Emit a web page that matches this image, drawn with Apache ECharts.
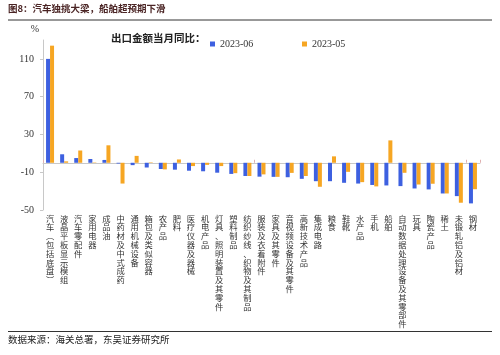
<!DOCTYPE html>
<html>
<head>
<meta charset="utf-8">
<script src="https://cdn.jsdelivr.net/npm/echarts@6/dist/echarts.min.js"></script>
<style>html,body{margin:0;padding:0;background:#fff;}#c{width:500px;height:355px;}</style>
</head>
<body>
<div id="c"></div>
<script>
const categories = ['汽车(包括底盘)','液晶平板显示模组','汽车零配件','家用电器','成品油','中药材及中式成药','通用机械设备','箱包及类似容器','农产品','肥料','医疗仪器及器械','机电产品','灯具、照明装置及其零件','塑料制品','纺织纱线、织物及其制品','服装及衣着附件','家具及其零件','音视频设备及其零件','高新技术产品','集成电路','粮食','鞋靴','水产品','手机','船舶','自动数据处理设备及其零部件','玩具','陶瓷产品','稀土','未锻轧铝及铝材','钢材'];
const series2306 = [110, 9, 5, 4, 3, -0.8, -2.5, -5, -6.6, -7.3, -8.4, -9, -10.5, -11.8, -14, -14.7, -14.9, -15.3, -17, -19.5, -19.5, -21.2, -22, -23.5, -24, -24.7, -27.2, -28.2, -32.5, -35.3, -43];
const series2305 = [124, 1.5, 13, 0.4, 18.5, -22, 7.3, 0.5, -7, 3.5, -3.5, -2.2, -3.5, -11, -14, -12.3, -14.9, -10.7, -14, -25.4, 6.8, -9.6, -20.5, -25, 23.7, -10.6, -23, -22.2, -32.5, -42.3, -28];
const seriesNames = ['2023-06', '2023-05'];

const chart = echarts.init(document.getElementById('c'), null, {renderer: 'canvas'});
const serif = '"Liberation Serif", "Times New Roman", serif';
const cjk = '"Noto Sans CJK SC", sans-serif';
function vert(s) {
  return s.replace(/\(/g, '︵').replace(/\)/g, '︶').split('').join('\n');
}
chart.setOption({
  animation: false,
  backgroundColor: '#fff',
  grid: {left: 43, right: 20, top: 40, bottom: 145, containLabel: false},
  legend: [
    {data: [seriesNames[0]], left: 205, top: 34, itemWidth: 5, itemHeight: 5, itemGap: 0,
     textStyle: {fontFamily: serif, fontSize: 10, color: '#333'}, icon: 'rect'},
    {data: [seriesNames[1]], left: 297, top: 34, itemWidth: 5, itemHeight: 5, itemGap: 0,
     textStyle: {fontFamily: serif, fontSize: 10, color: '#333'}, icon: 'rect'}
  ],
  xAxis: [
    {type: 'category', data: categories, position: 'bottom',
     axisLine: {onZero: true, lineStyle: {color: '#c8c8c8', width: 1}},
     axisTick: {show: true, inside: true, length: 3, lineStyle: {color: '#e0b0b0'}},
     axisLabel: {show: false}},
    {type: 'category', data: categories, position: 'bottom',
     axisLine: {show: false, onZero: false}, axisTick: {show: false},
     axisLabel: {show: true, interval: 0, margin: 4, fontFamily: cjk, fontSize: 8.3, lineHeight: 8.8,
       color: '#333', verticalAlign: 'top', formatter: v => vert(v)}}
  ],
  yAxis: {
    type: 'value', min: -50, max: 130, interval: 40,
    name: '%', nameLocation: 'end', nameGap: 6,
    nameTextStyle: {fontFamily: serif, fontSize: 10, color: '#333', align: 'right', padding: [0, 4, 0, 0]},
    axisLine: {show: true, lineStyle: {color: '#c8c8c8'}},
    axisTick: {show: true, length: 3, lineStyle: {color: '#c8c8c8'}},
    splitLine: {show: false},
    axisLabel: {showMaxLabel: false, margin: 9, fontFamily: serif, fontSize: 10, color: '#333'}
  },
  series: [
    {name: seriesNames[0], type: 'bar', xAxisIndex: 0, data: series2306, barWidth: 4, barGap: '0%',
     itemStyle: {color: '#3d60e0'}},
    {name: seriesNames[1], type: 'bar', xAxisIndex: 0, data: series2305, barWidth: 4, barGap: '0%',
     itemStyle: {color: '#f6a623'}}
  ],
  graphic: [
    {type: 'text', left: 8, top: 4, style: {text: '图8：汽车独挑大梁，船舶超预期下滑', fontFamily: cjk, fontSize: 9.5, fontWeight: 'bold', fill: '#4a2424'}},
    {type: 'line', shape: {x1: 8, y1: 20, x2: 492, y2: 20}, style: {stroke: '#333', lineWidth: 1}},
    {type: 'text', left: 111, top: 33, style: {text: '出口金额当月同比：', fontFamily: cjk, fontSize: 10.5, fontWeight: 'bold', fill: '#222'}},
    {type: 'line', shape: {x1: 8, y1: 331.5, x2: 492, y2: 331.5}, style: {stroke: '#333', lineWidth: 1}},
    {type: 'text', left: 8, top: 335, style: {text: '数据来源：海关总署，东吴证券研究所', fontFamily: cjk, fontSize: 9.5, fill: '#222'}}
  ]
});
</script>
</body>
</html>
